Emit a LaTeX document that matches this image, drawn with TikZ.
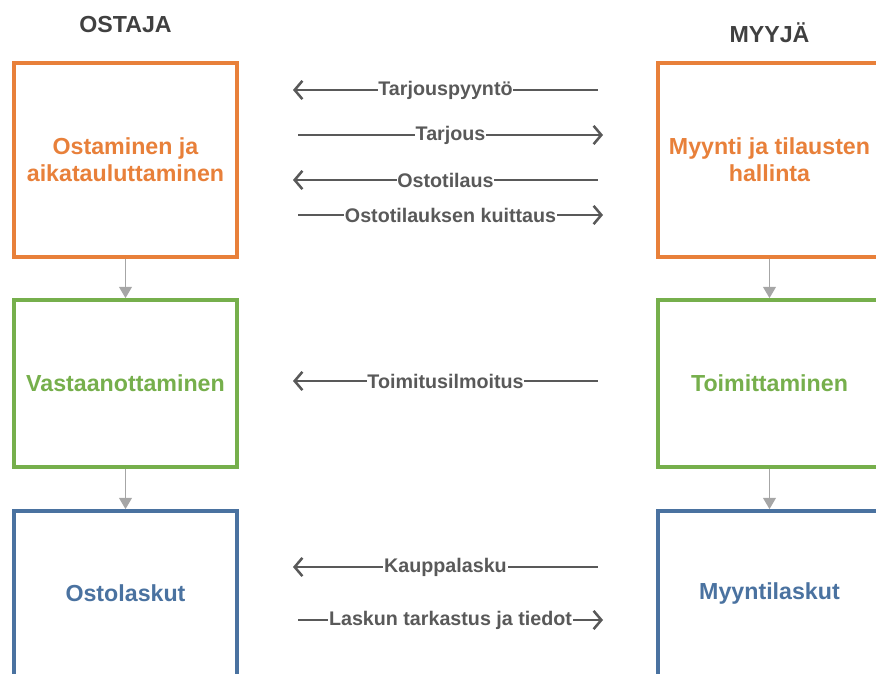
\documentclass[tikz,border=0pt]{standalone}
\usepackage{fontspec}
\setmainfont{Liberation Sans}
\usetikzlibrary{arrows.meta}
\definecolor{buyorange}{HTML}{E8803A}
\definecolor{delgreen}{HTML}{76AF4C}
\definecolor{invblue}{HTML}{4A72A0}
\definecolor{msggray}{HTML}{595959}
\definecolor{headgray}{HTML}{404040}
\definecolor{flowgray}{HTML}{A6A6A6}
\begin{document}
\begin{tikzpicture}[x=0.025cm, y=-0.025cm,%
% common options for the process boxes:
proc/.style = {draw, line width=2.6pt, fill=white, align=center,
            minimum width=5.575cm, inner sep=0,
            font=\bfseries\fontsize{16.5}{19.3}\selectfont},
% common options for the messages between the sides:
msg/.style = {draw=msggray, line width=1.8pt},
chev/.tip = {Straight Barb[length=5.5pt,width=13pt]},
lbl/.style = {fill=white, text=msggray, inner sep=0.6pt,
            font=\bfseries\fontsize{14}{16}\selectfont},
% common options for the downward flow:
flow/.style = {draw=flowgray, line width=1.3pt,
            -{Triangle[length=8pt,width=9pt]}}]
\useasboundingbox (0,0) rectangle (876,674);
\clip (0,0) rectangle (876,674);
\node[font=\bfseries\fontsize{16.5}{19}\selectfont, text=headgray] (H0) at (125.5,25) {OSTAJA};
\node[font=\bfseries\fontsize{16.5}{19}\selectfont, text=headgray] (H1) at (769.5,33) {MYYJÄ};
\node[proc, draw=buyorange, text=buyorange, minimum height=4.85cm] (A1) at (125.5,160) {Ostaminen ja\\aikatauluttaminen};
\node[proc, draw=delgreen, text=delgreen, minimum height=4.175cm] (A2) at (125.5,383.5) {Vastaanottaminen};
\node[proc, draw=invblue, text=invblue, minimum height=4.125cm] (A3) at (125.5,593.5) {Ostolaskut};
\node[proc, draw=buyorange, text=buyorange, minimum height=4.85cm] (B1) at (769.5,160) {Myynti ja tilausten\\hallinta};
\node[proc, draw=delgreen, text=delgreen, minimum height=4.175cm] (B2) at (769.5,383.5) {Toimittaminen};
\node[proc, draw=invblue, text=invblue, minimum height=4.125cm] (B3) at (769.5,593.5) {Myyntilaskut};
\draw[flow] (A1.south) to (A2.north);
\draw[flow] (A2.south) to (A3.north);
\draw[flow] (B1.south) to (B2.north);
\draw[flow] (B2.south) to (B3.north);
% message ends
\coordinate (m1l) at (293,90);  \coordinate (m1r) at (598,90);
\coordinate (m2l) at (298,135); \coordinate (m2r) at (603,135);
\coordinate (m3l) at (293,180); \coordinate (m3r) at (598,180);
\coordinate (m4l) at (298,215); \coordinate (m4r) at (603,215);
\coordinate (m5l) at (293,381); \coordinate (m5r) at (598,381);
\coordinate (m6l) at (293,567); \coordinate (m6r) at (598,567);
\coordinate (m7l) at (298,620); \coordinate (m7r) at (603,620);
\draw[msg, chev-] (m1l) to node[lbl] (L1) {Tarjouspyyntö} (m1r);
\draw[msg, -chev] (m2l) to node[lbl] (L2) {Tarjous} (m2r);
\draw[msg, chev-] (m3l) to node[lbl] (L3) {Ostotilaus} (m3r);
\draw[msg, -chev] (m4l) to node[lbl] (L4) {Ostotilauksen kuittaus} (m4r);
\draw[msg, chev-] (m5l) to node[lbl] (L5) {Toimitusilmoitus} (m5r);
\draw[msg, chev-] (m6l) to node[lbl] (L6) {Kauppalasku} (m6r);
\draw[msg, -chev] (m7l) to node[lbl] (L7) {Laskun tarkastus ja tiedot} (m7r);
\end{tikzpicture}
\end{document}
